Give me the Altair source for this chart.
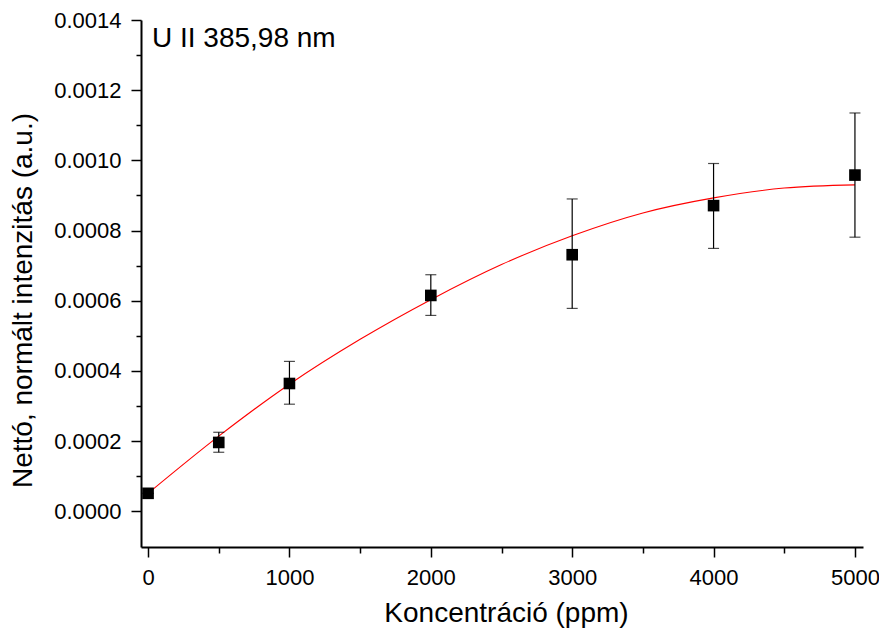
import altair as alt
import pandas as pd

# measured data
conc = [0, 500, 1000, 2000, 3000, 4000, 5000]
intensity = [0.000051, 0.000196, 0.000364, 0.000615, 0.000731, 0.000871, 0.000958]
err_low = [0.000051, 0.000168, 0.000305, 0.000558, 0.000578, 0.000749, 0.000781]
err_high = [0.000051, 0.000225, 0.000427, 0.000674, 0.000890, 0.000991, 0.001135]

# fitted curve
fit_x = [0, 500, 1000, 1500, 2000, 2500, 3000, 3500, 4000, 4500, 5000]
fit_y = [0.000051, 0.000214, 0.000362, 0.000490, 0.000603, 0.000703, 0.000785, 0.000850, 0.000893, 0.000921, 0.000930]

x_ticks = [0, 500, 1000, 1500, 2000, 2500, 3000, 3500, 4000, 4500, 5000]
y_ticks = [0.0, 0.0001, 0.0002, 0.0003, 0.0004, 0.0005, 0.0006, 0.0007,
           0.0008, 0.0009, 0.0010, 0.0011, 0.0012, 0.0013, 0.0014]

pts = pd.DataFrame({"x": conc, "y": intensity, "lo": err_low, "hi": err_high})
fit = pd.DataFrame({"x": fit_x, "y": fit_y})

FONT = "Liberation Sans"
x_major = "abs(datum.value % 1000) < 0.5"
y_major = "abs(datum.value * 5000 - round(datum.value * 5000)) < 0.001"

x_axis = alt.Axis(
    values=x_ticks,
    labelExpr=f"({x_major}) ? format(datum.value, 'd') : ''",
    tickSize={"condition": {"test": x_major, "value": 10}, "value": 6},
    tickWidth=1.5, tickColor="black",
    domainColor="black", domainWidth=2,
    labelFont=FONT, labelFontSize=22, labelColor="black", labelPadding=10,
    labelFlush=False,
    grid=False,
    title="Koncentráció (ppm)",
    titleFont=FONT, titleFontSize=28, titleFontWeight="normal", titleColor="black",
    titleBaseline="alphabetic", titleY=74, titleX=365,
)
y_axis = alt.Axis(
    values=y_ticks,
    labelExpr=f"({y_major}) ? format(datum.value, '.4f') : ''",
    tickSize={"condition": {"test": y_major, "value": 10}, "value": 5},
    tickWidth=1.5, tickColor="black",
    domainColor="black", domainWidth=2,
    labelFont=FONT, labelFontSize=22, labelColor="black", labelPadding=10,
    labelFlush=False,
    grid=False,
    title="Nettó, normált intenzitás (a.u.)",
    titleFont=FONT, titleFontSize=28, titleFontWeight="normal", titleColor="black",
    titleBaseline="alphabetic", titleX=-110, titleY=280, titleAngle=-90,
)

YS = alt.Scale(domain=[-0.000102, 0.0014], nice=False, zero=False)
X = alt.X("x:Q", scale=alt.Scale(domain=[-50, 5057], nice=False, zero=False), axis=x_axis)
Y = alt.Y("y:Q", scale=YS, axis=y_axis)

line = alt.Chart(fit).mark_line(color="#ff0000", strokeWidth=1.1, interpolate="monotone").encode(x=X, y=Y)

rules = alt.Chart(pts).mark_rule(color="black", strokeWidth=1.2).encode(
    x=X, y=alt.Y("lo:Q", scale=YS, axis=y_axis), y2="hi:Q")
cap_lo = alt.Chart(pts).mark_tick(color="black", thickness=1.2, size=11, orient="horizontal").encode(
    x=X, y=alt.Y("lo:Q", scale=YS, axis=y_axis))
cap_hi = alt.Chart(pts).mark_tick(color="black", thickness=1.2, size=11, orient="horizontal").encode(
    x=X, y=alt.Y("hi:Q", scale=YS, axis=y_axis))

squares = alt.Chart(pts).mark_square(color="black", size=135, opacity=1).encode(x=X, y=Y)

label = alt.Chart(pd.DataFrame({"t": ["U II 385,98 nm"]})).mark_text(
    font=FONT, fontSize=28, color="black", align="left", baseline="alphabetic"
).encode(x=alt.value(11), y=alt.value(27), text="t:N")

chart = alt.layer(line, rules, cap_lo, cap_hi, squares, label).properties(
    width=722, height=527,
    background="white",
    autosize=alt.AutoSizeParams(type="none"),
    padding={"left": 133, "top": 12, "right": 16, "bottom": 81},
).configure_view(strokeWidth=0, stroke="transparent")

chart.save("out.html", embed_options={"renderer": "svg", "actions": False})
